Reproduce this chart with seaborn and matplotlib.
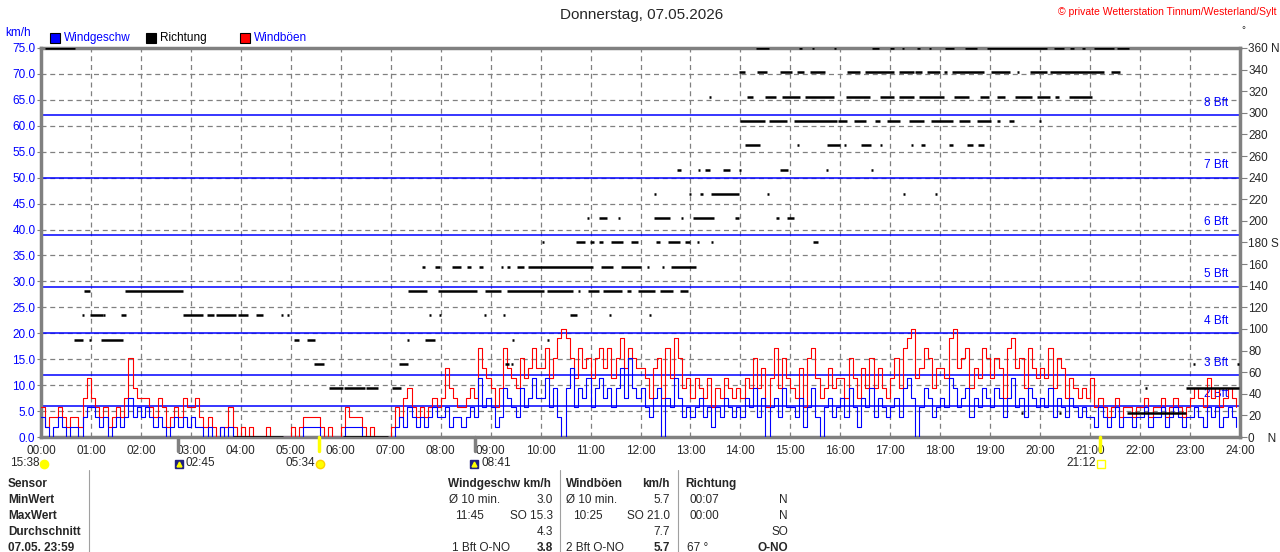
import numpy as np
import pandas as pd
import matplotlib
matplotlib.use("Agg")
import matplotlib.pyplot as plt
from matplotlib.patches import Rectangle
from matplotlib.lines import Line2D
import seaborn as sns

# wind speed (blue) and gusts (red) in km/h, one value every 5 minutes, one row per hour
speed = [
    3.8, 1.9, 0, 1.9, 3.8, 1.9, 0, 1.9, 1.9, 0, 3.8, 5.7,
    5.7, 3.8, 1.9, 3.8, 0, 1.9, 3.8, 1.9, 3.8, 7.6, 3.8, 5.7,
    3.8, 5.7, 3.8, 1.9, 3.8, 1.9, 0, 1.9, 3.8, 1.9, 3.8, 1.9,
    3.8, 1.9, 1.9, 0, 1.9, 0, 0, 1.9, 0, 1.9, 0, 0,
    0, 0, 0, 0, 0, 0, 0, 0, 0, 0, 0, 0,
    0, 0, 0, 1.9, 1.9, 1.9, 1.9, 0, 0, 0, 0, 0,
    0, 1.9, 1.9, 1.9, 1.9, 0, 0, 0, 0, 0, 0, 0,
    0, 1.9, 3.8, 1.9, 5.7, 3.8, 1.9, 3.8, 1.9, 3.8, 5.7, 3.8,
    3.8, 5.7, 1.9, 3.8, 3.8, 1.9, 3.8, 5.7, 3.8, 11.4, 5.7, 7.6,
    5.7, 1.9, 3.8, 9.5, 7.6, 5.7, 3.8, 9.5, 5.7, 7.6, 11.4, 7.6,
    7.6, 11.4, 5.7, 9.5, 3.8, 0, 9.5, 13.3, 5.7, 9.5, 7.6, 11.4,
    5.7, 9.5, 11.4, 7.6, 9.5, 5.7, 9.5, 13.3, 7.6, 15.2, 9.5, 7.6,
    9.5, 5.7, 3.8, 7.6, 9.5, 0, 7.6, 5.7, 11.4, 7.6, 3.8, 5.7,
    3.8, 5.7, 7.6, 3.8, 5.7, 1.9, 5.7, 3.8, 7.6, 5.7, 3.8, 5.7,
    3.8, 7.6, 5.7, 9.5, 3.8, 7.6, 0, 5.7, 7.6, 3.8, 9.5, 5.7,
    5.7, 3.8, 7.6, 1.9, 5.7, 9.5, 3.8, 0, 5.7, 7.6, 3.8, 5.7,
    7.6, 3.8, 9.5, 5.7, 1.9, 7.6, 5.7, 9.5, 3.8, 7.6, 5.7, 3.8,
    5.7, 7.6, 3.8, 9.5, 11.4, 7.6, 0, 5.7, 9.5, 7.6, 3.8, 5.7,
    7.6, 5.7, 11.4, 9.5, 5.7, 7.6, 9.5, 3.8, 7.6, 5.7, 9.5, 7.6,
    5.7, 9.5, 7.6, 3.8, 7.6, 11.4, 5.7, 7.6, 3.8, 9.5, 7.6, 5.7,
    7.6, 5.7, 9.5, 3.8, 7.6, 5.7, 3.8, 7.6, 5.7, 3.8, 5.7, 3.8,
    3.8, 1.9, 5.7, 3.8, 1.9, 3.8, 5.7, 1.9, 3.8, 3.8, 1.9, 3.8,
    3.8, 5.7, 1.9, 3.8, 3.8, 5.7, 1.9, 3.8, 5.7, 3.8, 1.9, 3.8,
    3.8, 5.7, 3.8, 1.9, 5.7, 3.8, 5.7, 1.9, 3.8, 5.7, 3.8, 1.9,
]
gust = [
    5.7, 1.9, 3.8, 3.8, 5.7, 3.8, 1.9, 3.8, 3.8, 1.9, 7.6, 11.4,
    7.6, 5.7, 3.8, 5.7, 1.9, 3.8, 5.7, 3.8, 7.6, 15.2, 9.5, 7.6,
    7.6, 7.6, 5.7, 3.8, 7.6, 5.7, 1.9, 3.8, 5.7, 3.8, 7.6, 5.7,
    5.7, 7.6, 3.8, 1.9, 3.8, 1.9, 0, 1.9, 1.9, 5.7, 1.9, 0,
    1.9, 0, 1.9, 0, 0, 0, 1.9, 0, 0, 0, 0, 0,
    1.9, 0, 1.9, 3.8, 3.8, 3.8, 3.8, 1.9, 0, 1.9, 0, 0,
    1.9, 5.7, 3.8, 3.8, 3.8, 1.9, 0, 1.9, 0, 0, 0, 0,
    1.9, 5.7, 3.8, 7.6, 9.5, 5.7, 3.8, 5.7, 3.8, 5.7, 7.6, 5.7,
    7.6, 13.3, 9.5, 7.6, 5.7, 5.7, 7.6, 9.5, 7.6, 17.1, 13.3, 11.4,
    9.5, 5.7, 9.5, 17.1, 13.3, 11.4, 9.5, 15.2, 11.4, 13.3, 17.1, 13.3,
    13.3, 17.1, 11.4, 15.2, 19.0, 20.9, 19.0, 15.2, 11.4, 17.1, 13.3, 15.2,
    11.4, 15.2, 17.1, 13.3, 17.1, 11.4, 15.2, 19.0, 13.3, 17.1, 15.2, 13.3,
    13.3, 11.4, 7.6, 13.3, 15.2, 7.6, 17.1, 11.4, 19.0, 15.2, 9.5, 11.4,
    7.6, 11.4, 9.5, 7.6, 11.4, 5.7, 9.5, 7.6, 11.4, 9.5, 7.6, 9.5,
    7.6, 11.4, 9.5, 15.2, 9.5, 13.3, 5.7, 11.4, 17.1, 9.5, 15.2, 11.4,
    9.5, 7.6, 13.3, 5.7, 15.2, 17.1, 11.4, 7.6, 9.5, 13.3, 9.5, 11.4,
    11.4, 7.6, 15.2, 11.4, 7.6, 13.3, 9.5, 15.2, 9.5, 13.3, 9.5, 7.6,
    11.4, 15.2, 9.5, 17.1, 19.0, 20.9, 11.4, 13.3, 17.1, 15.2, 9.5, 13.3,
    13.3, 11.4, 19.0, 20.9, 13.3, 15.2, 17.1, 9.5, 13.3, 11.4, 17.1, 15.2,
    11.4, 15.2, 13.3, 7.6, 17.1, 19.0, 13.3, 15.2, 9.5, 17.1, 13.3, 11.4,
    13.3, 11.4, 17.1, 9.5, 15.2, 13.3, 7.6, 11.4, 9.5, 7.6, 9.5, 7.6,
    11.4, 5.7, 7.6, 5.7, 3.8, 5.7, 7.6, 3.8, 5.7, 5.7, 3.8, 5.7,
    5.7, 7.6, 3.8, 5.7, 5.7, 7.6, 3.8, 5.7, 7.6, 5.7, 3.8, 5.7,
    7.6, 9.5, 7.6, 5.7, 11.4, 7.6, 9.5, 5.7, 7.6, 9.5, 7.6, 5.7,
]

# wind direction: runs (start hour, end hour) for each direction in degrees
dir_000 = [(3.85, 4.85), (6.05, 6.95)]
dir_022 = [(19.62, 19.66), (20.38, 20.42), (21.74, 22.92)]
dir_045 = [(5.76, 6.04), (6.06, 6.48), (6.5, 6.74), (7.02, 7.2), (22.1, 22.14), (22.92, 23.97)]
dir_067 = [(5.46, 5.66), (7.16, 7.34), (9.28, 9.36), (9.4, 9.44), (23.06, 23.1), (23.93, 23.97)]
dir_090 = [(0.66, 0.84), (0.96, 1.0), (1.2, 1.64), (5.06, 5.16), (5.32, 5.48), (7.32, 7.36),
           (7.68, 7.88), (9.43, 9.47), (10.13, 10.17)]
dir_112 = [(0.83, 0.87), (0.98, 1.24), (1.25, 1.28), (1.6, 1.7), (2.84, 3.24), (3.32, 3.46),
           (3.5, 3.9), (3.94, 4.14), (4.3, 4.45), (4.81, 4.85), (4.93, 4.97), (7.77, 7.81),
           (7.97, 8.01), (8.87, 8.91), (9.25, 9.29), (10.59, 10.72), (11.37, 11.41), (12.17, 12.21)]
dir_135 = [(0.86, 0.98), (1.68, 2.85), (7.34, 7.72), (7.95, 8.73), (8.89, 9.21), (9.32, 10.07),
           (10.12, 10.65), (10.75, 10.79), (10.95, 11.17), (11.25, 11.63), (11.73, 11.81),
           (11.95, 12.3), (12.39, 12.65), (12.8, 12.95)]
dir_157 = [(7.63, 7.68), (7.88, 7.98), (8.23, 8.4), (8.52, 8.6), (8.77, 8.85), (9.2, 9.25),
           (9.33, 9.39), (9.53, 9.67), (9.75, 11.05), (11.2, 11.45), (11.61, 12.0),
           (12.13, 12.17), (12.43, 12.47), (12.61, 13.12)]
dir_180 = [(10.03, 10.07), (10.7, 10.88), (10.99, 11.07), (11.17, 11.25), (11.41, 11.65),
           (11.81, 11.95), (12.32, 12.4), (12.55, 12.8), (12.9, 12.99), (13.13, 13.17),
           (13.42, 13.46), (15.45, 15.55)]
dir_202 = [(10.92, 10.96), (11.17, 11.33), (11.55, 11.59), (12.27, 12.6), (12.81, 12.85),
           (13.05, 13.47), (13.9, 13.97), (14.72, 14.77), (14.93, 15.07)]
dir_225 = [(12.28, 12.32), (12.97, 13.01), (13.19, 13.25), (13.42, 13.97), (14.53, 14.57),
           (17.26, 17.3), (17.9, 17.94)]
dir_247 = [(12.73, 12.82), (13.15, 13.19), (13.3, 13.39), (13.65, 13.79), (13.97, 14.01),
           (14.79, 14.95), (15.71, 15.75), (16.62, 16.66)]
dir_270 = [(14.1, 14.4), (15.13, 15.17), (15.73, 15.99), (16.07, 16.11), (16.42, 16.61),
           (16.79, 16.83), (17.41, 17.45), (17.61, 17.7), (18.17, 18.25), (18.53, 18.65),
           (18.75, 18.87)]
dir_292 = [(14.0, 14.5), (14.57, 14.93), (15.07, 15.93), (15.95, 16.13), (16.27, 16.52),
           (16.7, 16.8), (16.93, 17.19), (17.37, 17.68), (17.82, 18.25), (18.37, 18.6),
           (18.73, 19.01), (19.13, 19.2), (19.37, 19.47), (19.97, 20.01)]
dir_315 = [(13.37, 13.41), (14.13, 14.25), (14.5, 14.72), (14.83, 15.2), (15.3, 15.87),
           (16.12, 16.6), (16.8, 17.07), (17.17, 17.48), (17.57, 18.07), (18.27, 18.57),
           (18.8, 18.97), (19.13, 19.3), (19.5, 19.83), (19.93, 20.2), (20.3, 20.37),
           (20.57, 21.03)]
dir_337 = [(13.97, 14.1), (14.33, 14.53), (14.8, 15.03), (15.13, 15.27), (15.4, 15.7),
           (16.13, 16.4), (16.5, 17.07), (17.17, 17.47), (17.5, 17.63), (17.73, 18.0),
           (18.07, 18.13), (18.23, 18.88), (19.01, 19.39), (19.53, 19.57), (19.8, 20.13),
           (20.2, 21.27), (21.41, 21.59)]
dir_360 = [(0.08, 0.68), (14.32, 14.57), (15.17, 15.23), (15.43, 15.47), (15.87, 15.91),
           (16.63, 16.77), (17.0, 17.07), (17.23, 17.27), (17.53, 17.6), (17.77, 17.81),
           (18.1, 18.27), (18.5, 18.73), (18.93, 20.13), (20.27, 20.47), (20.6, 20.67),
           (20.83, 20.9), (21.07, 21.47), (21.53, 21.77)]

bft_levels = [6, 12, 20, 29, 39, 50, 62]
bft_labels = ["2 Bft", "3 Bft", "4 Bft", "5 Bft", "6 Bft", "7 Bft", "8 Bft"]

hour_labels = [f"{h:02d}:00" for h in range(25)]
dir_ticks = list(range(0, 361, 20))
dir_labels = ["0    N" if d == 0 else "180 S" if d == 180 else "360 N" if d == 360 else str(d)
              for d in dir_ticks]

BLUE = "#0000ff"
RED = "#ff0000"
GREY = "#808080"

sns.set_style("white")
plt.rcParams["font.family"] = ["Liberation Sans", "DejaVu Sans"]
plt.rcParams["font.size"] = 8.5

df = pd.DataFrame({"time": np.arange(len(speed)) / 12.0, "speed": speed, "gust": gust})

W, H = 1280, 552
fig = plt.figure(figsize=(W / 100, H / 100), dpi=100)
ax = fig.add_axes([41 / W, 1 - 437 / H, 1199 / W, 389 / H])

# grid
ax.set_xlim(0, 24)
ax.set_ylim(0, 75)
ax.set_xticks(range(25))
ax.set_xticklabels(hour_labels)
ax.set_yticks(np.arange(0, 76, 5))
ax.set_yticklabels([f"{v:.1f}" for v in np.arange(0, 76, 5)], color=BLUE)
ax.grid(True, color=GREY, ls=(0, (4, 3)), lw=0.9)
ax.tick_params(axis="x", length=0, pad=6, labelsize=8.5)
ax.tick_params(axis="y", length=3, color=GREY, pad=1, labelsize=8.5)

# beaufort lines
for lvl, lab in zip(bft_levels, bft_labels):
    ax.axhline(lvl, color=BLUE, lw=1.1, zorder=1.5)
    ax.text(23.76, lvl + 1.2, lab, color=BLUE, ha="right", va="bottom", fontsize=8.5)
ax.axhline(75, color=BLUE, lw=1.1)

sns.lineplot(data=df, x="time", y="gust", ax=ax, color=RED, lw=0.8,
             drawstyle="steps-post", estimator=None, zorder=3)
sns.lineplot(data=df, x="time", y="speed", ax=ax, color=BLUE, lw=0.8,
             drawstyle="steps-post", estimator=None, zorder=4)
ax.set_xlabel("")
ax.set_ylabel("")

for side in ax.spines:
    ax.spines[side].set_color(GREY)
    ax.spines[side].set_linewidth(2.5)

# direction on the right axis
ax2 = ax.twinx()
ax2.set_ylim(0, 360)
ax2.set_yticks(dir_ticks)
ax2.set_yticklabels(dir_labels)
ax2.tick_params(axis="y", length=5, color=GREY, pad=1, labelsize=8.5)
for side in ax2.spines:
    ax2.spines[side].set_visible(False)
dir_runs = {0: dir_000, 22.5: dir_022, 45: dir_045, 67.5: dir_067, 90: dir_090,
            112.5: dir_112, 135: dir_135, 157.5: dir_157, 180: dir_180, 202.5: dir_202,
            225: dir_225, 247.5: dir_247, 270: dir_270, 292.5: dir_292, 315: dir_315,
            337.5: dir_337, 360: dir_360}
for deg, runs in dir_runs.items():
    starts = [r[0] for r in runs]
    ends = [r[1] for r in runs]
    ax2.hlines([deg] * len(runs), starts, ends, colors="black", lw=1.8, capstyle="butt")

# sun / moon markers below the time axis
xt = ax.get_xaxis_transform()
for t, c in [(2.74, GREY), (8.68, GREY), (5.57, "#ffff00"), (21.2, "#ffff00")]:
    ax.plot([t, t], [0, -0.037], transform=xt, color=c, lw=2.5, clip_on=False, zorder=5)

def px(x, y):
    return x / W, 1 - y / H

fig.text(*px(10, 463), "15:38", ha="left", va="center")
fig.text(*px(185, 463), "02:45", ha="left", va="center")
fig.text(*px(285, 463), "05:34", ha="left", va="center")
fig.text(*px(481, 463), "08:41", ha="left", va="center")
fig.text(*px(1066, 463), "21:12", ha="left", va="center")
icons = [(44, "o", "#ffff00", "#ffff00"), (179, "s", "#202080", "#202080"),
         (320, "o", "#ffff00", "#ffd000"), (474, "s", "#202080", "#202080"),
         (1101, "s", "none", "#ffff00")]
for x, m, fc, ec in icons:
    fig.add_artist(Line2D([x / W], [1 - 464 / H], marker=m, markersize=6,
                          markerfacecolor=fc, markeredgecolor=ec, ls=""))
for x in (179, 474):
    fig.add_artist(Line2D([x / W], [1 - 464 / H], marker="^", markersize=3.5,
                          color="#ffff00", ls=""))

# title and header texts
fig.text(*px(642, 15), "Donnerstag, 07.05.2026", ha="center", va="center", fontsize=11)
fig.text(*px(1276, 12), "© private Wetterstation Tinnum/Westerland/Sylt", ha="right",
         va="center", color=RED, fontsize=7.5)
fig.text(*px(5, 33), "km/h", color=BLUE, ha="left", va="center")
fig.text(*px(1243, 30), "°", ha="center", va="center", fontsize=7)

legend_items = [(50, BLUE, "Windgeschw", BLUE), (146, "black", "Richtung", "black"),
                (240, RED, "Windböen", BLUE)]
for x, c, lab, tc in legend_items:
    fig.add_artist(Rectangle(px(x, 43), 10 / W, 10 / H, facecolor=c, edgecolor="black", lw=0.8))
    fig.text(*px(x + 14, 38), lab, color=tc, ha="left", va="center")

# summary table
rows_y = [484, 500, 516, 532, 548]
row_names = ["Sensor", "MinWert", "MaxWert", "Durchschnitt", "07.05. 23:59"]
for y, name in zip(rows_y, row_names):
    fig.text(*px(8, y), name, ha="left", va="center", fontweight="bold")
for x in (89, 560, 678):
    fig.add_artist(Line2D([x / W, x / W], [1 - 470 / H, 0], color="#a0a0a0", lw=0.8))

fig.text(*px(448, 484), "Windgeschw km/h", ha="left", va="center", fontweight="bold")
fig.text(*px(566, 484), "Windböen", ha="left", va="center", fontweight="bold")
fig.text(*px(670, 484), "km/h", ha="right", va="center", fontweight="bold")
fig.text(*px(685, 484), "Richtung", ha="left", va="center", fontweight="bold")

cells = [
    (449, 500, "Ø 10 min.", "left", "normal"), (553, 500, "3.0", "right", "normal"),
    (566, 500, "Ø 10 min.", "left", "normal"), (670, 500, "5.7", "right", "normal"),
    (690, 500, "00:07", "left", "normal"), (788, 500, "N", "right", "normal"),
    (455, 516, "11:45", "left", "normal"), (553, 516, "SO 15.3", "right", "normal"),
    (573, 516, "10:25", "left", "normal"), (670, 516, "SO 21.0", "right", "normal"),
    (690, 516, "00:00", "left", "normal"), (788, 516, "N", "right", "normal"),
    (553, 532, "4.3", "right", "normal"), (670, 532, "7.7", "right", "normal"),
    (788, 532, "SO", "right", "normal"),
    (452, 548, "1 Bft O-NO", "left", "normal"), (553, 548, "3.8", "right", "bold"),
    (566, 548, "2 Bft O-NO", "left", "normal"), (670, 548, "5.7", "right", "bold"),
    (687, 548, "67 °", "left", "normal"), (788, 548, "O-NO", "right", "bold"),
]
for x, y, s, ha, fw in cells:
    fig.text(*px(x, y), s, ha=ha, va="center", fontweight=fw)

fig.savefig("out.png", dpi=100, facecolor="white")
